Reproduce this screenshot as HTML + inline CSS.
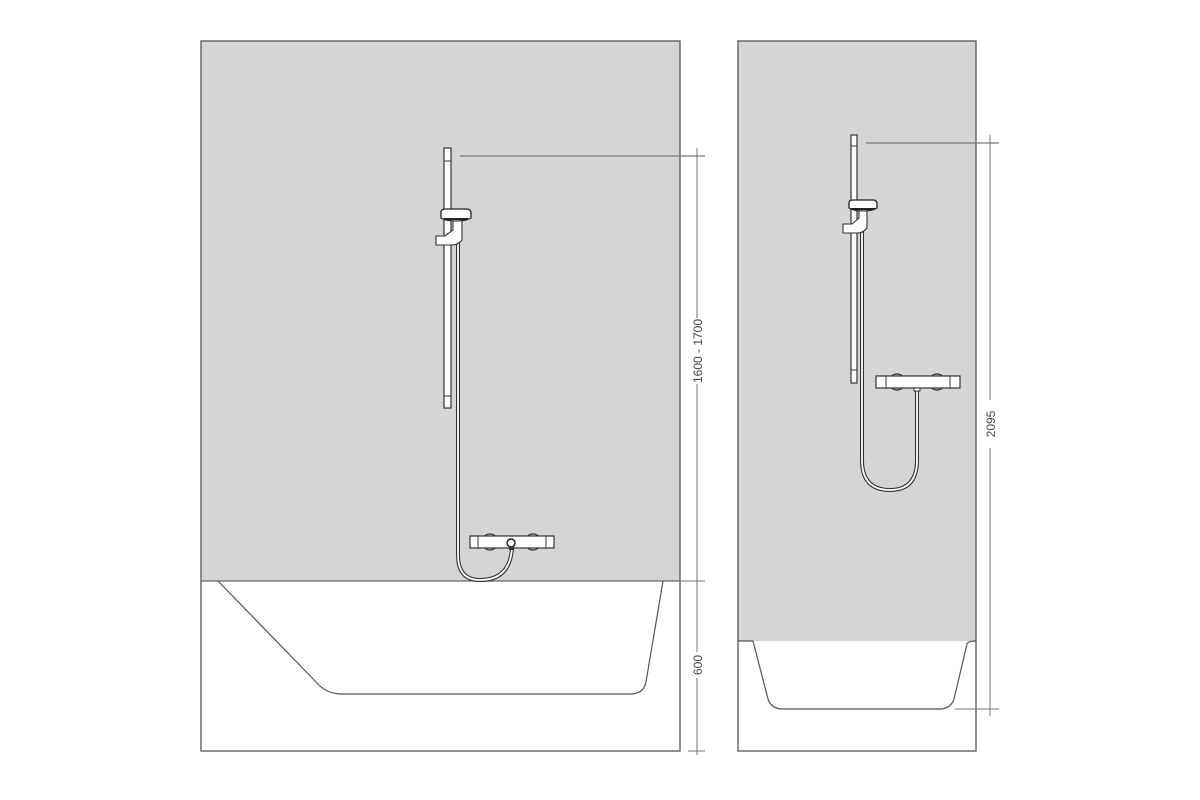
<!DOCTYPE html>
<html><head><style>html,body{margin:0;padding:0;background:#fff}svg{display:block}</style></head>
<body>
<svg width="1200" height="800" viewBox="0 0 1200 800" xmlns="http://www.w3.org/2000/svg">
<defs>
<g id="hose"></g>
</defs>
<!-- LEFT PANEL -->
<rect x="201" y="41" width="479" height="540" fill="#d4d5d7"/>
<rect x="201" y="41" width="479" height="710" fill="none" stroke="#555" stroke-width="1.3"/>
<line x1="201" y1="581" x2="680" y2="581" stroke="#666" stroke-width="1.3"/>
<path d="M218 581 L318 684 Q326 693 340 694 L632 694 Q644 693 646 682 L663 581" fill="none" stroke="#555" stroke-width="1.2"/>
<!-- left dims -->
<line x1="697" y1="148" x2="697" y2="755" stroke="#777" stroke-width="1"/>
<line x1="460" y1="156" x2="705" y2="156" stroke="#777" stroke-width="1.2"/>
<line x1="680" y1="581" x2="705" y2="581" stroke="#777" stroke-width="1"/>
<line x1="688" y1="751" x2="705" y2="751" stroke="#777" stroke-width="1"/>
<rect x="688" y="318" width="18" height="66" fill="#fff"/>
<text transform="translate(702 351) rotate(-90)" text-anchor="middle" font-family="Liberation Sans, sans-serif" font-size="12" fill="#444">1600 - 1700</text>
<rect x="688" y="652" width="18" height="26" fill="#fff"/>
<text transform="translate(702 665) rotate(-90)" text-anchor="middle" font-family="Liberation Sans, sans-serif" font-size="12" fill="#444">600</text>
<!-- left hose -->
<path d="M458 240 L458 555 Q458 580 480 580 Q510 580 512 548" fill="none" stroke="#333" stroke-width="4"/>
<path d="M458 240 L458 555 Q458 580 480 580 Q510 580 512 548" fill="none" stroke="#fff" stroke-width="1.8"/>
<!-- left rail -->
<rect x="444" y="148" width="7" height="260" fill="#fff" stroke="#333" stroke-width="1.2"/>
<line x1="444" y1="161" x2="451" y2="161" stroke="#333"/>
<line x1="444" y1="396" x2="451" y2="396" stroke="#333"/>
<path d="M441 212 Q441 209 446 209 L466 209 Q471 209 471 213 L471 218 Q466 221 456 221 Q446 221 441 218 Z" fill="#fff" stroke="#222" stroke-width="1.3"/>
<line x1="444" y1="219" x2="468" y2="219" stroke="#222" stroke-width="2"/>
<path d="M453 221 L462 221 L462 240 Q458 245 452 245 L436 245 L436 236 L445 236 L453 230 Z" fill="#fff" stroke="#333" stroke-width="1.1"/>
<!-- left mixer -->
<circle cx="490" cy="542" r="8" fill="none" stroke="#333" stroke-width="1.2"/>
<circle cx="533" cy="542" r="8" fill="none" stroke="#333" stroke-width="1.2"/>
<rect x="470" y="536" width="84" height="12" fill="#fff" stroke="#333" stroke-width="1.2"/>
<line x1="478" y1="536" x2="478" y2="548" stroke="#333"/>
<line x1="546" y1="536" x2="546" y2="548" stroke="#333"/>
<circle cx="511" cy="543" r="4" fill="#fff" stroke="#222" stroke-width="1.5"/>
<rect x="509" y="546" width="5" height="4" fill="#333"/>

<!-- RIGHT PANEL -->
<rect x="738" y="41" width="238" height="600" fill="#d4d5d7"/>
<path d="M738 641 L753 641 L768 699 Q771 708 781 709 L941 709 Q951 708 954 699 L967 644 Q968 641 976 641" fill="#fff" stroke="#555" stroke-width="1.2"/>
<rect x="738" y="41" width="238" height="710" fill="none" stroke="#555" stroke-width="1.3"/>
<line x1="990" y1="135" x2="990" y2="716" stroke="#777" stroke-width="1"/>
<line x1="866" y1="143" x2="999" y2="143" stroke="#777" stroke-width="1.2"/>
<line x1="955" y1="709" x2="999" y2="709" stroke="#777" stroke-width="1"/>
<rect x="982" y="400" width="18" height="48" fill="#fff"/>
<text transform="translate(995 424) rotate(-90)" text-anchor="middle" font-family="Liberation Sans, sans-serif" font-size="12" fill="#444">2095</text>
<!-- right hose -->
<path d="M862 225 L862 460 Q862 490 890 490 Q917 490 917 460 L917 389" fill="none" stroke="#333" stroke-width="4"/>
<path d="M862 225 L862 460 Q862 490 890 490 Q917 490 917 460 L917 389" fill="none" stroke="#fff" stroke-width="1.8"/>
<!-- right rail -->
<rect x="851" y="135" width="6" height="248" fill="#fff" stroke="#333" stroke-width="1.2"/>
<line x1="851" y1="146" x2="857" y2="146" stroke="#333"/>
<line x1="851" y1="370" x2="857" y2="370" stroke="#333"/>
<path d="M849 203 Q849 200 853 200 L873 200 Q877 200 877 204 L877 208 Q872 211 863 211 Q854 211 849 208 Z" fill="#fff" stroke="#222" stroke-width="1.3"/>
<line x1="851" y1="209" x2="875" y2="209" stroke="#222" stroke-width="2"/>
<path d="M859 211 L867 211 L867 228 Q863 233 858 233 L843 233 L843 224 L852 224 L859 218 Z" fill="#fff" stroke="#333" stroke-width="1.1"/>
<!-- right mixer -->
<circle cx="897" cy="382" r="8" fill="none" stroke="#333" stroke-width="1.2"/>
<circle cx="937" cy="382" r="8" fill="none" stroke="#333" stroke-width="1.2"/>
<rect x="876" y="376" width="84" height="12" fill="#fff" stroke="#333" stroke-width="1.2"/>
<line x1="886" y1="376" x2="886" y2="388" stroke="#333"/>
<line x1="950" y1="376" x2="950" y2="388" stroke="#333"/>
<rect x="914" y="388" width="6" height="3" fill="#fff" stroke="#333"/>
</svg>
</body></html>
